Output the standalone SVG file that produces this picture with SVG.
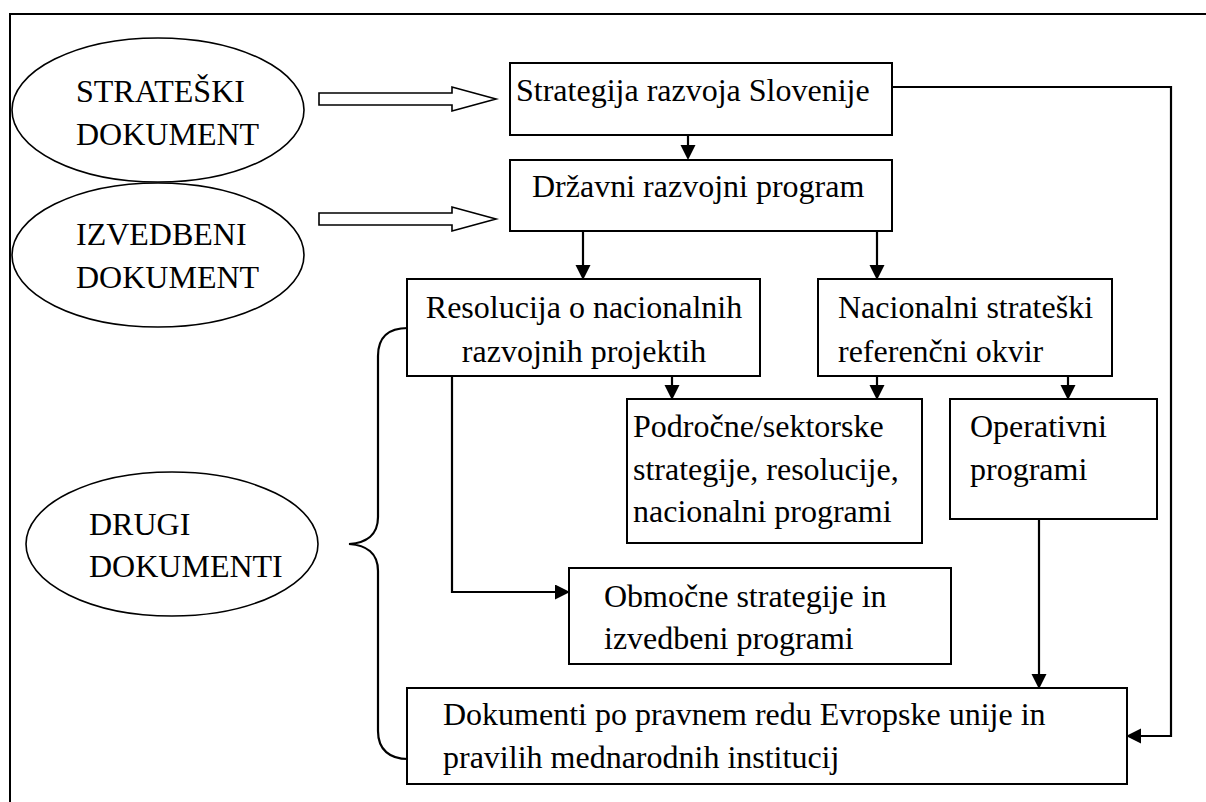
<svg xmlns="http://www.w3.org/2000/svg" width="1206" height="802" viewBox="0 0 1206 802">
  <style>
    text { font-family: 'Liberation Serif', 'DejaVu Serif', serif; font-size: 32px; fill: #000; }
    .box { fill: #fff; stroke: #000; stroke-width: 2; }
    .ell { fill: #fff; stroke: #000; stroke-width: 1.6; }
    .hollow { fill: #fff; stroke: #000; stroke-width: 1.6; stroke-linejoin: miter; }
    .link { fill: none; stroke: #000; stroke-width: 2.2; }
    .frame { fill: none; stroke: #000; stroke-width: 2; }
  </style>
  <defs>
    <marker id="arrow" markerUnits="userSpaceOnUse" markerWidth="16" markerHeight="16" refX="6" refY="7.5" orient="auto">
      <path d="M0,0 L15,7.5 L0,15 Z" fill="#000"/>
    </marker>
  </defs>

  <rect width="1206" height="802" fill="#fff"/>

  <!-- outer frame -->
  <path class="frame" d="M10 802 V14 H1206"/>

  <g font-family="Liberation Serif, DejaVu Serif, serif" font-size="32">
  <!-- document category ellipses -->
  <g id="strateski">
    <ellipse class="ell" cx="158" cy="110" rx="146" ry="72"/>
    <text x="76" y="102">STRATEŠKI</text>
    <text x="76" y="145">DOKUMENT</text>
  </g>
  <g id="izvedbeni">
    <ellipse class="ell" cx="158" cy="255" rx="146" ry="72"/>
    <text x="76" y="245">IZVEDBENI</text>
    <text x="76" y="288">DOKUMENT</text>
  </g>
  <g id="drugi">
    <ellipse class="ell" cx="172" cy="544" rx="146" ry="72"/>
    <text x="89" y="535">DRUGI</text>
    <text x="89" y="577">DOKUMENTI</text>
  </g>

  <!-- document boxes -->
  <g id="strategija">
    <rect class="box" x="510" y="63" width="382" height="72"/>
    <text x="516" y="101">Strategija razvoja Slovenije</text>
  </g>
  <g id="drzavni">
    <rect class="box" x="510" y="160" width="382" height="71"/>
    <text x="532" y="197">Državni razvojni program</text>
  </g>
  <g id="resolucija">
    <rect class="box" x="407" y="279" width="353" height="97"/>
    <text x="584" y="318" text-anchor="middle">Resolucija o nacionalnih</text>
    <text x="584" y="362" text-anchor="middle">razvojnih projektih</text>
  </g>
  <g id="nacionalni">
    <rect class="box" x="818" y="279" width="294" height="97"/>
    <text x="838" y="318">Nacionalni strateški</text>
    <text x="838" y="362">referenčni okvir</text>
  </g>
  <g id="podrocne">
    <rect class="box" x="627" y="399" width="295" height="144"/>
    <text x="633" y="437">Področne/sektorske</text>
    <text x="633" y="480">strategije, resolucije,</text>
    <text x="633" y="522">nacionalni programi</text>
  </g>
  <g id="operativni">
    <rect class="box" x="950" y="399" width="207" height="120"/>
    <text x="970" y="437">Operativni</text>
    <text x="970" y="480">programi</text>
  </g>
  <g id="obmocne">
    <rect class="box" x="569" y="568" width="382" height="96"/>
    <text x="604" y="607">Območne strategije in</text>
    <text x="604" y="649">izvedbeni programi</text>
  </g>
  <g id="dokumenti">
    <rect class="box" x="407" y="688" width="720" height="96"/>
    <text x="443" y="725">Dokumenti po pravnem redu Evropske unije in</text>
    <text x="443" y="768">pravilih mednarodnih institucij</text>
  </g>
  </g>

  <!-- connectors -->
  <g id="connectors">
    <!-- hollow block arrows from the category ellipses -->
    <path class="hollow" d="M319 93 L452 93 L452 87 L496 99 L452 111 L452 105 L319 105 Z"/>
    <path class="hollow" d="M319 213 L452 213 L452 207 L496 219 L452 231 L452 225 L319 225 Z"/>

    <!-- brace grouping the other documents -->
    <path class="link" stroke-width="2" d="M408 328 C390 328 378 336 378 356 L378 517 C378 535 366 543 349 544 C366 545 378 553 378 571 L378 731 C378 750 390 759 408 759"/>

    <path class="link" marker-end="url(#arrow)" d="M688 135 V151"/>
    <path class="link" marker-end="url(#arrow)" d="M583 231 V271"/>
    <path class="link" marker-end="url(#arrow)" d="M877 231 V271"/>
    <path class="link" marker-end="url(#arrow)" d="M672 376 V391"/>
    <path class="link" marker-end="url(#arrow)" d="M877 376 V391"/>
    <path class="link" marker-end="url(#arrow)" d="M1068 376 V391"/>
    <path class="link" marker-end="url(#arrow)" d="M452 376 V592 H561"/>
    <path class="link" marker-end="url(#arrow)" d="M1039 519 V680"/>
    <path class="link" marker-end="url(#arrow)" d="M892 87 H1171 V736 H1135"/>
  </g>
</svg>
